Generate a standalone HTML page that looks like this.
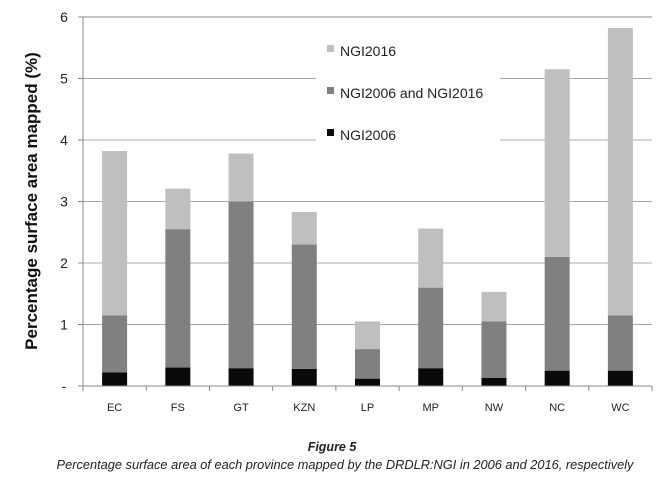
<!DOCTYPE html>
<html><head><meta charset="utf-8"><style>
body{margin:0;background:#fff;width:664px;height:477px;overflow:hidden;font-family:"Liberation Sans",sans-serif}
</style></head><body>
<svg width="664" height="477" xmlns="http://www.w3.org/2000/svg">
<g id="grid"></g>
<rect x="316" y="30" width="184" height="122" fill="#fff"/>
<g id="bars"></g>
<g id="axes"></g>
<g font-size="14" fill="#222">
<rect x="327" y="45" width="7" height="7" fill="#bfbfbf"/>
<text x="340" y="56">NGI2016</text>
<rect x="327" y="87" width="7" height="7" fill="#808080"/>
<text x="340" y="98">NGI2006 and NGI2016</text>
<rect x="327" y="129" width="7" height="7" fill="#0a0a0a"/>
<text x="340" y="140">NGI2006</text>
</g>
<text transform="translate(37,201) rotate(-90)" text-anchor="middle" font-size="17" font-weight="bold" fill="#111">Percentage surface area mapped (%)</text>
<text x="332" y="451" text-anchor="middle" font-size="12.5" font-weight="bold" font-style="italic" fill="#222">Figure 5</text>
<text x="345" y="469" text-anchor="middle" font-size="12.8" font-style="italic" fill="#222">Percentage surface area of each province mapped by the DRDLR:NGI in 2006 and 2016, respectively</text>
</svg>
<script>
const categories=["EC","FS","GT","KZN","LP","MP","NW","NC","WC"];
const ngi2006=[0.22,0.30,0.29,0.28,0.12,0.29,0.13,0.25,0.25];
const bothTop=[1.15,2.55,3.00,2.30,0.60,1.60,1.05,2.10,1.15];
const totals=[3.82,3.21,3.78,2.83,1.05,2.56,1.53,5.15,5.82];
const yTicks=[0,1,2,3,4,5,6];
const yTickLabels=["-","1","2","3","4","5","6"];
const NS="http://www.w3.org/2000/svg";
const x0=83,x1=652,y0=386,yTop=17,yMax=6;
const slot=(x1-x0)/categories.length;
function y(v){return y0-(v/yMax)*(y0-yTop);}
function xc(i){return x0+slot*(i+0.5);}
function mk(tag,attrs,parent){const e=document.createElementNS(NS,tag);for(const k in attrs)e.setAttribute(k,attrs[k]);parent.appendChild(e);return e;}
const grid=document.getElementById('grid'),bars=document.getElementById('bars'),axes=document.getElementById('axes');
yTicks.forEach((t,i)=>{
 if(t>0){const l=mk('line',{x1:x0,x2:x1,y1:y(t),y2:y(t),stroke:t==6?'#888':'#a8a8a8','stroke-width':1},grid);
 
 }
 const tk=mk('line',{x1:x0-5,x2:x0,y1:y(t),y2:y(t),stroke:'#888'},axes);
 
 
 const tx=mk('text',{x:x0-19,y:y(t)+5,'text-anchor':'middle','font-size':14,fill:'#222'},axes);
 tx.textContent=yTickLabels[i];
 
 
});
const bw=25;
categories.forEach((c,i)=>{
 const segs=[[0,ngi2006[i],'#0a0a0a','ngi2006'],[ngi2006[i],bothTop[i],'#808080','both'],[bothTop[i],totals[i],'#bfbfbf','ngi2016']];
 segs.forEach(s=>{const r=mk('rect',{x:xc(i)-bw/2,y:y(s[1]),width:bw,height:y(s[0])-y(s[1]),fill:s[2]},bars);
 
 });
 const tx=mk('text',{x:xc(i),y:411,'text-anchor':'middle','font-size':11,fill:'#222'},axes);
 tx.textContent=c;
 
 
});
for(let i=0;i<=categories.length;i++){const t=mk('line',{x1:x0+slot*i,x2:x0+slot*i,y1:y0,y2:y0+5,stroke:'#888'},axes);
 
 }
const ya=mk('line',{x1:x0,x2:x0,y1:yTop,y2:y0,stroke:'#888'},axes);


const xa=mk('line',{x1:x0,x2:x1,y1:y0,y2:y0,stroke:'#888'},axes);


</script>
</body></html>
